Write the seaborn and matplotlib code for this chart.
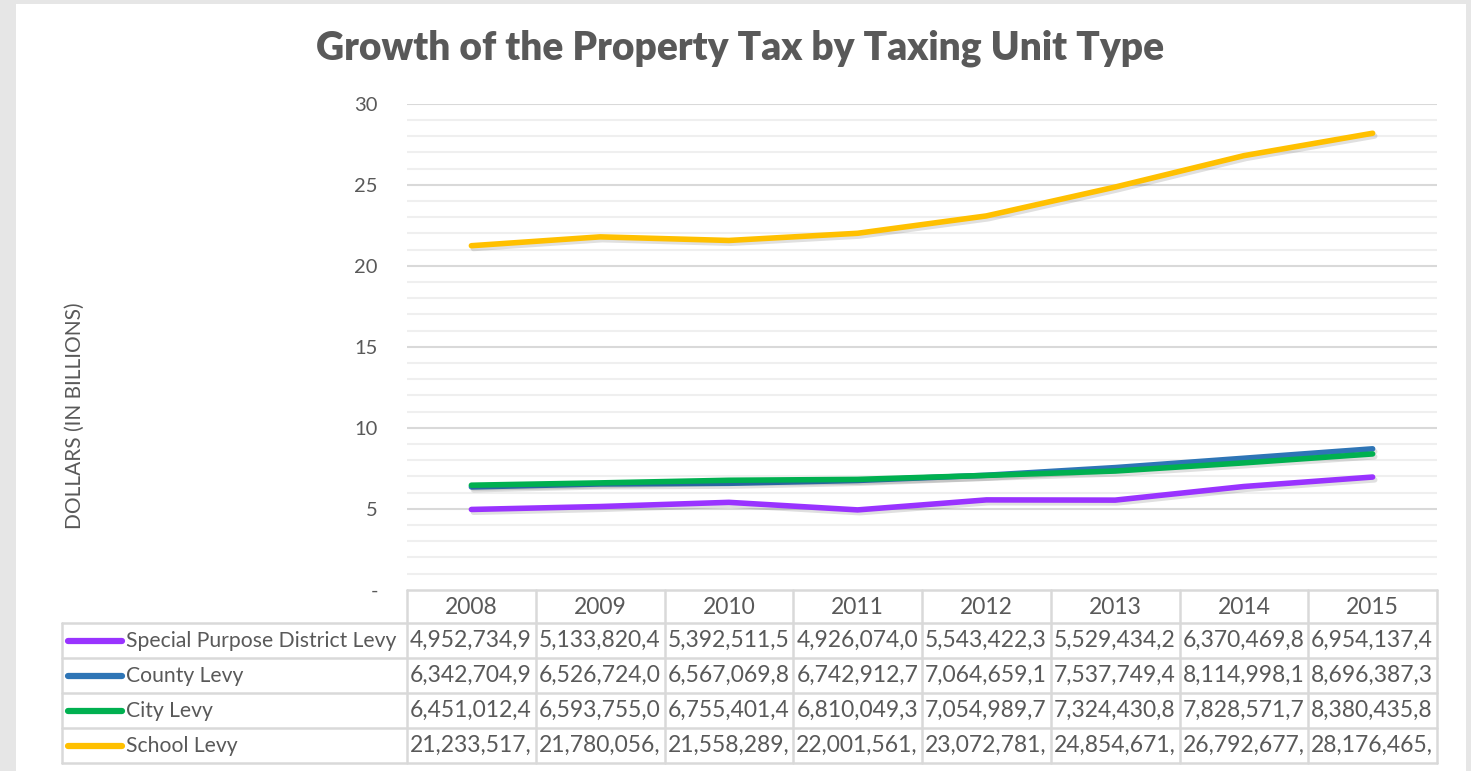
import matplotlib
matplotlib.use("Agg")
import matplotlib.pyplot as plt
import matplotlib.patheffects as pe
from matplotlib.patches import Rectangle
import seaborn as sns
import pandas as pd

years = ["2008", "2009", "2010", "2011", "2012", "2013", "2014", "2015"]
series_names = ["Special Purpose District Levy", "County Levy", "City Levy", "School Levy"]
special = [4952734900, 5133820400, 5392511500, 4926074000, 5543422300, 5529434200, 6370469800, 6954137400]
county = [6342704900, 6526724000, 6567069800, 6742912700, 7064659100, 7537749400, 8114998100, 8696387300]
city = [6451012400, 6593755000, 6755401400, 6810049300, 7054989700, 7324430800, 7828571700, 8380435800]
school = [21233517000, 21780056000, 21558289000, 22001561000, 23072781000, 24854671000, 26792677000, 28176465000]
colors = ["#9933FF", "#2E75B6", "#00B050", "#FFC000"]
title = "Growth of the Property Tax by Taxing Unit Type"
ylabel = "DOLLARS (IN BILLIONS)"
ytick_vals = [0, 5, 10, 15, 20, 25, 30]
ytick_labels = ["-", "5", "10", "15", "20", "25", "30"]

all_vals = [special, county, city, school]
rows = []
for name, vals in zip(series_names, all_vals):
    for y, v in zip(years, vals):
        rows.append({"Year": y, "Levy": name, "Billions": v / 1e9})
df = pd.DataFrame(rows)

sns.set_theme(style="white")
plt.rcParams["font.family"] = ["Lato", "DejaVu Sans"]

W, H = 1471, 771
fig = plt.figure(figsize=(W / 100, H / 100), dpi=100)
fig.patch.set_facecolor("#E6E6E6")
fig.add_artist(Rectangle((16 / W, 0), (1466 - 16) / W, (771 - 4) / H,
                         transform=fig.transFigure, facecolor="white", edgecolor="none", zorder=0))

ax_left, ax_right = 407, 1437
y_top, y_bot = 103.7, 589.7
ax = fig.add_axes([ax_left / W, (H - y_bot) / H, (ax_right - ax_left) / W, (y_bot - y_top) / H])
ax.set_facecolor("none")

for yv in range(1, 30):
    if yv % 5 != 0:
        ax.axhline(yv, color="#EFEFEF", lw=1.5, zorder=0)
for yv in ytick_vals[1:]:
    ax.axhline(yv, color="#D9D9D9", lw=1.5, zorder=0)

sns.lineplot(data=df, x="Year", y="Billions", hue="Levy", hue_order=series_names,
             palette=colors, linewidth=4.0, legend=False, ax=ax, sort=False)
for line in ax.lines:
    if len(line.get_xdata()) == len(years):
        line.set_solid_capstyle("round")
        line.set_path_effects([pe.SimpleLineShadow(offset=(1.5, -2.0), shadow_color="black", alpha=0.12),
                               pe.Normal()])

ax.set_xlim(-0.5, 7.5)
ax.set_ylim(0, 30)
ax.set_yticks(ytick_vals)
ax.set_yticklabels(ytick_labels)
ax.tick_params(axis="y", length=0, pad=21, labelsize=14.5, labelcolor="#595959")
ax.set_xticks([])
ax.set_xlabel("")
ax.set_ylabel("")
for s in ax.spines.values():
    s.set_visible(False)

fig.text(75 / W, (H - 416) / H, ylabel, rotation=90, ha="center", va="center",
         fontsize=15, color="#595959")
fig.text(740 / W, (H - 48) / H, title, ha="center", va="center",
         fontsize=28, fontweight="heavy", color="#595959")

# data table
t_left, t_top, t_bot = 62, 590, 763
ppu = (ax_right - ax_left) / 8.0
x_min = -0.5 - (ax_left - t_left) / ppu
tax = fig.add_axes([t_left / W, (H - t_bot) / H, (ax_right - t_left) / W, (t_bot - t_top) / H])
tax.set_xlim(x_min, 7.5)
tax.set_ylim(t_bot, t_top)
tax.axis("off")
tax.set_facecolor("none")

def px(xp):
    return -0.5 + (xp - ax_left) / ppu

gc = "#D9D9D9"
glw = 1.8
row_lines = [623, 658, 693, 728, 763]
tax.plot([-0.5, 7.5], [t_top, t_top], color=gc, lw=glw, clip_on=False)
for yl in row_lines:
    tax.plot([x_min, 7.5], [yl, yl], color=gc, lw=glw, clip_on=False)
for i in range(9):
    tax.plot([i - 0.5, i - 0.5], [t_top, t_bot], color=gc, lw=glw, clip_on=False)
tax.plot([x_min, x_min], [row_lines[0], t_bot], color=gc, lw=glw, clip_on=False)

tc = "#595959"
for i, y in enumerate(years):
    tax.text(i, (t_top + row_lines[0]) / 2 + 1, y, ha="center", va="center", fontsize=16.5, color=tc)

for r, (name, vals, c) in enumerate(zip(series_names, all_vals, colors)):
    yc = (row_lines[r] + row_lines[r + 1]) / 2
    tax.plot([px(68), px(122)], [yc, yc], color=c, lw=4.5, solid_capstyle="round", clip_on=False)
    tax.text(px(126), yc, name, ha="left", va="center", fontsize=15.2, color=tc)
    for i, v in enumerate(vals):
        s = f"{v:,}"[:11]
        tax.text(i - 0.5 + 3 / ppu, yc, s, ha="left", va="center", fontsize=16.5, color=tc)

fig.savefig("out.png", dpi=100, facecolor=fig.get_facecolor())
